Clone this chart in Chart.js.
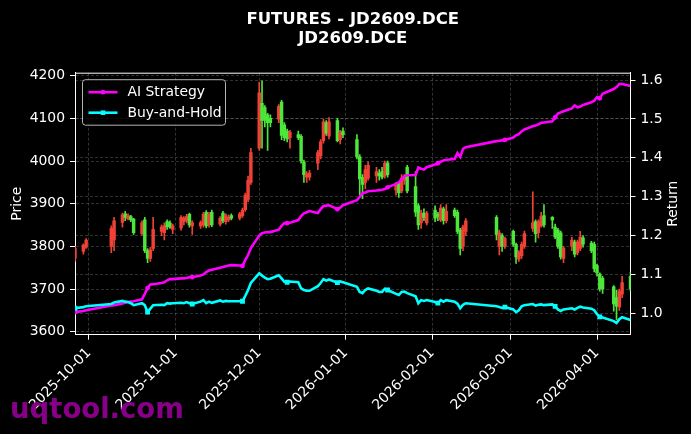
<!DOCTYPE html>
<html>
<head>
<meta charset="utf-8">
<script src="https://cdn.jsdelivr.net/npm/chart.js@4.4.1/dist/chart.umd.min.js"></script>
<style>
  html, body { margin: 0; padding: 0; background: #000; }
</style>
</head>
<body>
<canvas id="chart" width="691" height="434"></canvas>
<script>
// trading days (DCE calendar, holidays skipped)
const dates = [
  '2025-09-26','2025-09-29','2025-09-30','2025-10-09','2025-10-10',
  '2025-10-13','2025-10-14','2025-10-15','2025-10-16','2025-10-17',
  '2025-10-20','2025-10-21','2025-10-22','2025-10-23','2025-10-24',
  '2025-10-27','2025-10-28','2025-10-29','2025-10-30','2025-10-31',
  '2025-11-03','2025-11-04','2025-11-05','2025-11-06','2025-11-07',
  '2025-11-10','2025-11-11','2025-11-12','2025-11-13','2025-11-14',
  '2025-11-17','2025-11-18','2025-11-19','2025-11-20','2025-11-21',
  '2025-11-24','2025-11-25','2025-11-26','2025-11-27','2025-11-28',
  '2025-12-01','2025-12-02','2025-12-03','2025-12-04','2025-12-05',
  '2025-12-08','2025-12-09','2025-12-10','2025-12-11','2025-12-12',
  '2025-12-15','2025-12-16','2025-12-17','2025-12-18','2025-12-19',
  '2025-12-22','2025-12-23','2025-12-24','2025-12-25','2025-12-26',
  '2025-12-29','2025-12-30','2025-12-31',
  '2026-01-05','2026-01-06','2026-01-07','2026-01-08','2026-01-09',
  '2026-01-12','2026-01-13','2026-01-14','2026-01-15','2026-01-16',
  '2026-01-19','2026-01-20','2026-01-21','2026-01-22','2026-01-23',
  '2026-01-26','2026-01-27','2026-01-28','2026-01-29','2026-01-30',
  '2026-02-02','2026-02-03','2026-02-04','2026-02-05','2026-02-06',
  '2026-02-09','2026-02-10','2026-02-11','2026-02-12','2026-02-13',
  '2026-02-24','2026-02-25','2026-02-26','2026-02-27',
  '2026-03-02','2026-03-03','2026-03-04','2026-03-05','2026-03-06',
  '2026-03-09','2026-03-10','2026-03-11','2026-03-12','2026-03-13',
  '2026-03-16','2026-03-17','2026-03-18','2026-03-19','2026-03-20',
  '2026-03-23','2026-03-24','2026-03-25','2026-03-26','2026-03-27',
  '2026-03-30','2026-03-31',
  '2026-04-01','2026-04-02','2026-04-03',
  '2026-04-07','2026-04-08','2026-04-09','2026-04-10','2026-04-13'
];

const opens = [
  3772, 3788, 3798, 3800, 3815,  3856, 3876, 3865, 3870, 3864,
  3830, 3862, 3790, 3772, 3795,  3835, 3832, 3858, 3855, 3840,
  3843, 3858, 3860, 3875, 3848,  3848, 3850, 3880, 3850, 3880,
  3852, 3878, 3858, 3862, 3872,  3866, 3872, 3886, 3910, 3950,
  4030, 4135, 4125, 4108, 4100,  4098, 4138, 4085, 4070, 4055,
  4062, 4058, 3998, 3962, 3962,  3995, 4012, 4048, 4090, 4058,
  4095, 4050, 4070,
  4050, 4010, 3962, 3950, 3960,  3965, 3972, 3975, 3965, 3995,
  3932, 3948, 3930, 3955, 3985,  3940, 3895, 3855, 3878, 3855,
  3885, 3875, 3862, 3888, 3860,  3885, 3880, 3838, 3800, 3835,
  3868, 3800, 3825, 3800,
  3835, 3805, 3770, 3778, 3800,  3842, 3858, 3832, 3848, 3872,
  3868, 3845, 3838, 3832, 3772,  3800, 3810, 3785, 3795, 3820,
  3808, 3805,
  3755, 3735, 3725,  3705, 3680, 3658, 3688, 3730
];
const highs = [
  3800, 3806, 3818, 3848, 3868,  3878, 3882, 3876, 3873, 3866,
  3860, 3868, 3795, 3798, 3868,  3850, 3855, 3862, 3860, 3852,
  3872, 3870, 3875, 3878, 3860,  3860, 3880, 3884, 3880, 3885,
  3870, 3882, 3876, 3874, 3876,  3880, 3890, 3925, 3965, 4030,
  4185, 4188, 4130, 4112, 4108,  4132, 4142, 4090, 4075, 4072,
  4070, 4062, 4002, 3975, 3978,  4025, 4050, 4098, 4095, 4102,
  4100, 4072, 4078,
  4062, 4015, 3968, 3990, 3998,  3985, 3980, 3985, 4000, 4000,
  3950, 3952, 3968, 3968, 3990,  3975, 3900, 3885, 3888, 3882,
  3895, 3880, 3898, 3892, 3898,  3890, 3885, 3842, 3850, 3865,
  3872, 3838, 3830, 3822,
  3838, 3808, 3790, 3810, 3836,  3928, 3862, 3862, 3880, 3898,
  3870, 3852, 3842, 3836, 3800,  3822, 3815, 3815, 3835, 3825,
  3812, 3810,
  3758, 3738, 3730,  3708, 3697, 3700, 3730, 3740
];
const lows = [
  3765, 3782, 3795, 3785, 3790,  3845, 3860, 3862, 3858, 3828,
  3826, 3785, 3762, 3765, 3790,  3825, 3815, 3840, 3842, 3830,
  3838, 3850, 3855, 3845, 3828,  3842, 3845, 3843, 3845, 3846,
  3848, 3855, 3852, 3858, 3862,  3862, 3868, 3882, 3905, 3945,
  4025, 4030, 4080, 4025, 4080,  4090, 4050, 4048, 4045, 4030,
  4050, 3995, 3950, 3950, 3955,  3980, 4005, 4042, 4060, 4052,
  4045, 4040, 4055,
  4005, 3920, 3912, 3935, 3955,  3950, 3955, 3958, 3960, 3962,
  3920, 3915, 3925, 3945, 3925,  3870, 3840, 3842, 3860, 3850,
  3858, 3860, 3858, 3852, 3855,  3868, 3830, 3780, 3790, 3825,
  3815, 3780, 3788, 3795,
  3800, 3760, 3765, 3772, 3795,  3835, 3810, 3820, 3845, 3845,
  3842, 3818, 3795, 3770, 3762,  3790, 3775, 3780, 3790, 3798,
  3785, 3740,
  3730, 3695, 3690,  3648, 3628, 3650, 3680, 3695
];
const closes = [
  3795, 3803, 3815, 3842, 3860,  3874, 3868, 3872, 3862, 3832,
  3855, 3790, 3772, 3792, 3840,  3845, 3848, 3846, 3845, 3848,
  3868, 3866, 3870, 3850, 3855,  3856, 3875, 3848, 3875, 3850,
  3866, 3860, 3872, 3868, 3866,  3876, 3885, 3920, 3955, 4020,
  4160, 4095, 4095, 4090, 4090,  4128, 4060, 4055, 4052, 4068,
  4055, 4000, 3968, 3970, 3972,  4020, 4045, 4092, 4065, 4092,
  4048, 4068, 4062,
  4010, 3958, 3945, 3980, 3990,  3975, 3965, 3962, 3995, 3968,
  3945, 3925, 3960, 3962, 3930,  3880, 3850, 3878, 3868, 3878,
  3866, 3870, 3890, 3860, 3882,  3872, 3835, 3795, 3845, 3860,
  3828, 3832, 3800, 3818,
  3805, 3775, 3786, 3805, 3830,  3855, 3830, 3858, 3870, 3850,
  3862, 3822, 3800, 3775, 3796,  3815, 3782, 3810, 3822, 3805,
  3790, 3748,
  3738, 3700, 3700,  3665, 3660, 3695, 3715, 3700
];

const aiStrategy = [
  1.003, 1.006, 1.008, 1.020, 1.021,  1.025, 1.027, 1.029, 1.030, 1.031,
  1.036, 1.050, 1.065, 1.074, 1.075,  1.078, 1.080, 1.085, 1.088, 1.088,
  1.090, 1.090, 1.091, 1.093, 1.093,  1.097, 1.100, 1.106, 1.110, 1.112,
  1.117, 1.119, 1.121, 1.123, 1.124,  1.123, 1.122, 1.137, 1.150, 1.168,
  1.200, 1.206, 1.208, 1.209, 1.209,  1.215, 1.225, 1.232, 1.232, 1.233,
  1.240, 1.250, 1.257, 1.260, 1.263,  1.258, 1.268, 1.276, 1.277, 1.278,
  1.268, 1.272, 1.278,
  1.291, 1.300, 1.309, 1.311, 1.314,  1.316, 1.317, 1.318, 1.320, 1.324,
  1.333, 1.337, 1.345, 1.353, 1.355,  1.356, 1.375, 1.372, 1.370, 1.376,
  1.383, 1.386, 1.390, 1.393, 1.395,  1.397, 1.412, 1.402, 1.423, 1.427,
  1.443, 1.444, 1.445, 1.446,
  1.452, 1.458, 1.461, 1.468, 1.473,  1.481, 1.483, 1.486, 1.490, 1.491,
  1.494, 1.504, 1.514, 1.517, 1.520,  1.527, 1.535, 1.530, 1.532, 1.536,
  1.543, 1.547,
  1.556, 1.553, 1.565,  1.577, 1.582, 1.590, 1.590, 1.585
];
const buyHold = [
  1.013, 1.016, 1.018, 1.024, 1.028,  1.032, 1.030, 1.029, 1.026, 1.021,
  1.026, 1.021, 1.003, 1.012, 1.021,  1.022, 1.021, 1.026, 1.025, 1.026,
  1.027, 1.026, 1.029, 1.026, 1.024,  1.030, 1.034, 1.026, 1.030, 1.027,
  1.033, 1.030, 1.032, 1.031, 1.031,  1.031, 1.031, 1.045, 1.060, 1.078,
  1.103, 1.097, 1.092, 1.088, 1.089,  1.098, 1.090, 1.081, 1.080, 1.082,
  1.080, 1.064, 1.060, 1.058, 1.058,  1.070, 1.078, 1.088, 1.084, 1.087,
  1.079, 1.082, 1.080,
  1.068, 1.055, 1.052, 1.060, 1.064,  1.058, 1.055, 1.055, 1.063, 1.060,
  1.050, 1.047, 1.055, 1.056, 1.052,  1.044, 1.026, 1.034, 1.032, 1.034,
  1.029, 1.026, 1.034, 1.030, 1.034,  1.030, 1.025, 1.013, 1.022, 1.026,
  1.018, 1.016, 1.014, 1.016,
  1.010, 1.003, 1.008, 1.018, 1.021,  1.024, 1.020, 1.022, 1.023, 1.021,
  1.023, 1.018, 1.010, 1.006, 1.010,  1.013, 1.010, 1.014, 1.017, 1.015,
  1.012, 1.008,
  0.998, 0.991, 0.989,  0.980, 0.975, 0.985, 0.990, 0.983
];

const xTickLabels = ['2025-10-01', '2025-11-01', '2025-12-01', '2026-01-01', '2026-02-01', '2026-03-01', '2026-04-01'];

const FONT = 'DejaVu Sans';
const UP = '#ef4136';
const DOWN = '#4de63a';
const GRID = 'rgba(150,150,150,0.55)';

const toDay = s => Date.UTC(+s.slice(0, 4), +s.slice(5, 7) - 1, +s.slice(8, 10)) / 86400000;
const days = dates.map(toDay);
const candleColors = closes.map((c, i) => c >= opens[i] ? UP : DOWN);

const decor = {
  id: 'decor',
  beforeDraw(chart) {
    const ctx = chart.ctx;
    ctx.save();
    ctx.fillStyle = '#000';
    ctx.fillRect(0, 0, chart.width, chart.height);
    ctx.restore();
  },
  afterDatasetsDraw(chart) {
    const { ctx, chartArea: a } = chart;
    ctx.save();
    // top spine
    ctx.strokeStyle = '#fff';
    ctx.lineWidth = 1;
    ctx.beginPath();
    ctx.moveTo(a.left, a.top + 0.5);
    ctx.lineTo(a.right, a.top + 0.5);
    ctx.stroke();

    // legend (upper left, inside axes)
    const items = chart.data.datasets.filter(d => d.type === 'line');
    const x0 = a.left + 7.5, y0 = a.top + 7;
    const w = 143, h = 45.5;
    ctx.beginPath();
    ctx.roundRect(x0, y0, w, h, 3);
    ctx.fillStyle = 'rgba(0,0,0,0.8)';
    ctx.fill();
    ctx.strokeStyle = 'rgba(210,210,210,0.85)';
    ctx.lineWidth = 1;
    ctx.stroke();
    ctx.font = '13.9px "' + FONT + '"';
    ctx.textBaseline = 'middle';
    items.forEach((d, i) => {
      const yy = y0 + 12.5 + i * 20.5;
      ctx.strokeStyle = d.borderColor;
      ctx.lineWidth = d.borderWidth;
      ctx.beginPath();
      ctx.moveTo(x0 + 6, yy);
      ctx.lineTo(x0 + 35, yy);
      ctx.stroke();
      ctx.fillStyle = d.borderColor;
      if (d.pointStyle === 'rect') {
        ctx.fillRect(x0 + 20.5 - 2.3, yy - 2.3, 4.6, 4.6);
      } else {
        ctx.beginPath();
        ctx.arc(x0 + 20.5, yy, 2.4, 0, Math.PI * 2);
        ctx.fill();
      }
      ctx.fillStyle = '#fff';
      ctx.fillText(d.label, x0 + 45, yy + 0.5);
    });
    ctx.restore();
  },
  afterDraw(chart) {
    const { ctx, chartArea: a } = chart;
    ctx.save();
    ctx.fillStyle = '#fff';
    ctx.font = '13.9px "' + FONT + '"';
    ctx.textAlign = 'center';
    ctx.textBaseline = 'middle';
    ctx.translate(673, (a.top + a.bottom) / 2);
    ctx.rotate(-Math.PI / 2);
    ctx.fillText('Return', 0, 0);
    ctx.restore();

    ctx.save();
    ctx.fillStyle = 'rgb(136,0,136)';
    ctx.font = 'bold 27.5px "' + FONT + '"';
    ctx.textBaseline = 'alphabetic';
    ctx.fillText('uqtool.com', 10, 418);
    ctx.restore();
  }
};

new Chart(document.getElementById('chart'), {
  type: 'bar',
  data: {
    datasets: [
      {
        type: 'line',
        label: 'AI Strategy',
        data: days.map((d, i) => ({ x: d, y: aiStrategy[i] })),
        yAxisID: 'y1',
        borderColor: '#ff00ff',
        backgroundColor: '#ff00ff',
        borderWidth: 2.6,
        pointStyle: 'circle',
        pointRadius: ctx => ctx.dataIndex % 12 === 0 ? 2.4 : 0,
        pointBorderWidth: 0,
        tension: 0,
        order: 1
      },
      {
        type: 'line',
        label: 'Buy-and-Hold',
        data: days.map((d, i) => ({ x: d, y: buyHold[i] })),
        yAxisID: 'y1',
        borderColor: '#00ffff',
        backgroundColor: '#00ffff',
        borderWidth: 2.6,
        pointStyle: 'rect',
        pointRadius: ctx => ctx.dataIndex % 12 === 0 ? 3.4 : 0,
        pointBorderWidth: 0,
        tension: 0,
        order: 0
      },
      {
        label: 'wick',
        data: days.map((d, i) => ({ x: d, y: [lows[i], highs[i]] })),
        yAxisID: 'y',
        backgroundColor: candleColors,
        barThickness: 1,
        grouped: false,
        borderWidth: 0,
        order: 3
      },
      {
        label: 'body',
        data: days.map((d, i) => ({ x: d, y: [opens[i], closes[i]] })),
        yAxisID: 'y',
        backgroundColor: candleColors,
        barThickness: 2.8,
        grouped: false,
        borderWidth: 0,
        minBarLength: 1,
        order: 2
      }
    ]
  },
  options: {
    responsive: false,
    animation: false,
    events: [],
    layout: { padding: 0 },
    plugins: {
      legend: { display: false },
      tooltip: { enabled: false },
      title: {
        display: true,
        fullSize: false,
        text: ['FUTURES - JD2609.DCE', 'JD2609.DCE'],
        color: '#fff',
        font: { family: FONT, size: 16.5, weight: 'bold', lineHeight: 1.2 },
        padding: { top: 9.5, bottom: 23.6 }
      }
    },
    scales: {
      x: {
        type: 'linear',
        min: days[0],
        max: days[days.length - 1],
        offset: false,
        afterBuildTicks: s => { s.ticks = xTickLabels.map(l => ({ value: toDay(l) })); },
        afterFit: s => { s.height = 434 - 334.7; },
        ticks: {
          autoSkip: false,
          minRotation: 45,
          maxRotation: 45,
          padding: 5,
          color: '#fff',
          font: { family: FONT, size: 13.9 },
          callback: v => xTickLabels.find(l => toDay(l) === v) || ''
        },
        grid: { color: GRID, lineWidth: 0.6, offset: false, tickColor: '#fff', tickLength: 5, tickWidth: 1 },
        border: { color: '#fff', width: 1, dash: [3, 2] }
      },
      y: {
        position: 'left',
        min: 3593,
        max: 4207,
        afterFit: s => { s.width = 75; },
        ticks: {
          stepSize: 100, includeBounds: false, padding: 5, color: '#fff',
          font: { family: FONT, size: 13.9 },
          callback: v => String(v)
        },
        title: { display: true, text: 'Price', color: '#fff', font: { family: FONT, size: 13.9 }, padding: { top: 8.7, bottom: 0 } },
        grid: { color: GRID, lineWidth: 0.6, tickColor: '#fff', tickLength: 5, tickWidth: 1 },
        border: { color: '#fff', width: 1, dash: [3, 2] }
      },
      y1: {
        position: 'right',
        min: 0.945,
        max: 1.619,
        afterFit: s => { s.width = 691 - 630.5; },
        ticks: {
          stepSize: 0.1, includeBounds: false, padding: 5, color: '#fff',
          font: { family: FONT, size: 13.9 },
          callback: v => v.toFixed(1)
        },
        grid: { color: GRID, lineWidth: 0.6, tickColor: '#fff', tickLength: 5, tickWidth: 1 },
        border: { color: '#fff', width: 1, dash: [3, 2] }
      }
    }
  },
  plugins: [decor]
});
</script>
</body>
</html>
